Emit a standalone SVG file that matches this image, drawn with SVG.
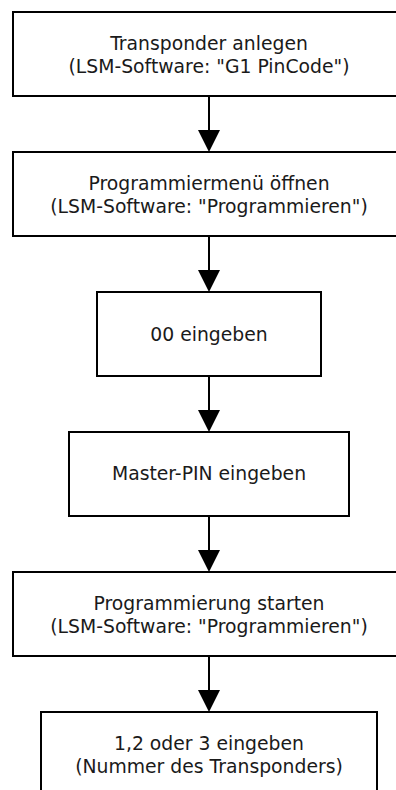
<svg xmlns="http://www.w3.org/2000/svg" width="396" height="790" viewBox="0 0 396 790">
  <style>
    .box { fill: #ffffff; stroke: #000000; stroke-width: 2; }
    .lbl { font-family: "DejaVu Sans", "Liberation Sans", sans-serif; font-size: 18.8px; fill: #1a1a1a; text-anchor: middle; }
    .conn { stroke: #000000; stroke-width: 2; fill: none; }
  </style>
  <defs>
    <marker id="arrow" markerUnits="userSpaceOnUse" markerWidth="22" markerHeight="22" viewBox="0 0 22 22" refX="1" refY="11" orient="auto">
      <path d="M0,0 L22,11 L0,22 Z" fill="#000000"/>
    </marker>
  </defs>
  <rect width="396" height="790" fill="#ffffff"/>

  <g id="connectors">
    <line class="conn" x1="209" y1="96" x2="209" y2="131" marker-end="url(#arrow)"/>
    <line class="conn" x1="209" y1="236" x2="209" y2="271" marker-end="url(#arrow)"/>
    <line class="conn" x1="209" y1="376" x2="209" y2="411" marker-end="url(#arrow)"/>
    <line class="conn" x1="209" y1="516" x2="209" y2="551" marker-end="url(#arrow)"/>
    <line class="conn" x1="209" y1="656" x2="209" y2="691" marker-end="url(#arrow)"/>
  </g>

  <g id="node1">
    <rect class="box" x="13" y="12" width="392" height="84"/>
    <text class="lbl" x="209" y="49.5">Transponder anlegen</text>
    <text class="lbl" x="209" y="72.5">(LSM-Software: "G1 PinCode")</text>
  </g>
  <g id="node2">
    <rect class="box" x="13" y="152" width="392" height="84"/>
    <text class="lbl" x="209" y="189.5">Programmiermenü öffnen</text>
    <text class="lbl" x="209" y="212.5">(LSM-Software: "Programmieren")</text>
  </g>
  <g id="node3">
    <rect class="box" x="97" y="292" width="224" height="84"/>
    <text class="lbl" x="209" y="341">00 eingeben</text>
  </g>
  <g id="node4">
    <rect class="box" x="69" y="432" width="280" height="84"/>
    <text class="lbl" x="209" y="480">Master-PIN eingeben</text>
  </g>
  <g id="node5">
    <rect class="box" x="13" y="572" width="392" height="84"/>
    <text class="lbl" x="209" y="609.5">Programmierung starten</text>
    <text class="lbl" x="209" y="632.5">(LSM-Software: "Programmieren")</text>
  </g>
  <g id="node6">
    <rect class="box" x="41" y="712" width="336" height="84"/>
    <text class="lbl" x="209" y="749.5">1,2 oder 3 eingeben</text>
    <text class="lbl" x="209" y="772.5">(Nummer des Transponders)</text>
  </g>
</svg>
